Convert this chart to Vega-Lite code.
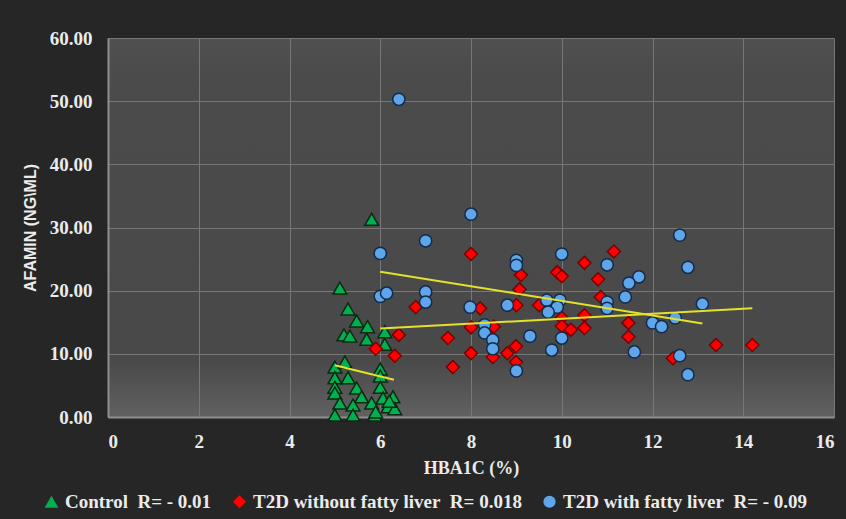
{
  "$schema": "https://vega.github.io/schema/vega-lite/v6.json",
  "autosize": {"type": "none"},
  "width": 726,
  "height": 379,
  "padding": {"left": 108, "top": 38, "right": 12, "bottom": 102},
  "background": "#262626",
  "config": {
    "view": {
      "stroke": null,
      "fill": {
        "gradient": "linear", "x1": 0, "y1": 0, "x2": 0, "y2": 1,
        "stops": [
          {"offset": 0, "color": "#505050"},
          {"offset": 0.1, "color": "#4b4b4b"},
          {"offset": 0.85, "color": "#494949"},
          {"offset": 1, "color": "#616161"}
        ]
      }
    },
    "axis": {
      "labelFont": "Liberation Serif",
      "labelFontWeight": "bold",
      "labelColor": "#ebebeb",
      "labelFontSize": 19,
      "titleColor": "#ebebeb",
      "gridColor": "#777777",
      "gridWidth": 1,
      "domainColor": "#8f8f8f",
      "domainWidth": 2,
      "ticks": false
    },
    "legend": {
      "labelFont": "Liberation Serif",
      "labelFontWeight": "bold",
      "labelFontSize": 19,
      "labelColor": "#ebebeb"
    }
  },
  "datasets": {
    "pts": [
      {"x": 5.11, "y": 20.4, "g": "Control\u00a0\u00a0R=\u00a0-\u00a00.01"},
      {"x": 5.29, "y": 17.1, "g": "Control\u00a0\u00a0R=\u00a0-\u00a00.01"},
      {"x": 5.48, "y": 15.2, "g": "Control\u00a0\u00a0R=\u00a0-\u00a00.01"},
      {"x": 5.72, "y": 14.3, "g": "Control\u00a0\u00a0R=\u00a0-\u00a00.01"},
      {"x": 5.2, "y": 13.0, "g": "Control\u00a0\u00a0R=\u00a0-\u00a00.01"},
      {"x": 5.33, "y": 12.8, "g": "Control\u00a0\u00a0R=\u00a0-\u00a00.01"},
      {"x": 5.7, "y": 12.3, "g": "Control\u00a0\u00a0R=\u00a0-\u00a00.01"},
      {"x": 6.1, "y": 13.5, "g": "Control\u00a0\u00a0R=\u00a0-\u00a00.01"},
      {"x": 6.1, "y": 11.5, "g": "Control\u00a0\u00a0R=\u00a0-\u00a00.01"},
      {"x": 5.81, "y": 31.3, "g": "Control\u00a0\u00a0R=\u00a0-\u00a00.01"},
      {"x": 5.0, "y": 7.9, "g": "Control\u00a0\u00a0R=\u00a0-\u00a00.01"},
      {"x": 5.22, "y": 8.7, "g": "Control\u00a0\u00a0R=\u00a0-\u00a00.01"},
      {"x": 6.0, "y": 7.6, "g": "Control\u00a0\u00a0R=\u00a0-\u00a00.01"},
      {"x": 5.0, "y": 6.2, "g": "Control\u00a0\u00a0R=\u00a0-\u00a00.01"},
      {"x": 5.29, "y": 6.2, "g": "Control\u00a0\u00a0R=\u00a0-\u00a00.01"},
      {"x": 6.0, "y": 6.5, "g": "Control\u00a0\u00a0R=\u00a0-\u00a00.01"},
      {"x": 5.0, "y": 4.7, "g": "Control\u00a0\u00a0R=\u00a0-\u00a00.01"},
      {"x": 5.48, "y": 4.6, "g": "Control\u00a0\u00a0R=\u00a0-\u00a00.01"},
      {"x": 5.0, "y": 3.8, "g": "Control\u00a0\u00a0R=\u00a0-\u00a00.01"},
      {"x": 5.59, "y": 3.2, "g": "Control\u00a0\u00a0R=\u00a0-\u00a00.01"},
      {"x": 6.0, "y": 4.7, "g": "Control\u00a0\u00a0R=\u00a0-\u00a00.01"},
      {"x": 6.28, "y": 3.2, "g": "Control\u00a0\u00a0R=\u00a0-\u00a00.01"},
      {"x": 5.11, "y": 2.2, "g": "Control\u00a0\u00a0R=\u00a0-\u00a00.01"},
      {"x": 5.4, "y": 1.9, "g": "Control\u00a0\u00a0R=\u00a0-\u00a00.01"},
      {"x": 5.81, "y": 2.2, "g": "Control\u00a0\u00a0R=\u00a0-\u00a00.01"},
      {"x": 6.06, "y": 3.0, "g": "Control\u00a0\u00a0R=\u00a0-\u00a00.01"},
      {"x": 6.17, "y": 1.6, "g": "Control\u00a0\u00a0R=\u00a0-\u00a00.01"},
      {"x": 5.0, "y": 0.3, "g": "Control\u00a0\u00a0R=\u00a0-\u00a00.01"},
      {"x": 5.4, "y": 0.3, "g": "Control\u00a0\u00a0R=\u00a0-\u00a00.01"},
      {"x": 5.88, "y": 0.3, "g": "Control\u00a0\u00a0R=\u00a0-\u00a00.01"},
      {"x": 6.32, "y": 1.3, "g": "Control\u00a0\u00a0R=\u00a0-\u00a00.01"},
      {"x": 6.2, "y": 2.5, "g": "Control\u00a0\u00a0R=\u00a0-\u00a00.01"},
      {"x": 5.9, "y": 0.8, "g": "Control\u00a0\u00a0R=\u00a0-\u00a00.01"},
      {"x": 6.78, "y": 17.4, "g": "T2D without fatty liver\u00a0\u00a0R=\u00a00.018"},
      {"x": 6.41, "y": 13.0, "g": "T2D without fatty liver\u00a0\u00a0R=\u00a00.018"},
      {"x": 5.9, "y": 10.8, "g": "T2D without fatty liver\u00a0\u00a0R=\u00a00.018"},
      {"x": 6.32, "y": 9.7, "g": "T2D without fatty liver\u00a0\u00a0R=\u00a00.018"},
      {"x": 7.49, "y": 12.5, "g": "T2D without fatty liver\u00a0\u00a0R=\u00a00.018"},
      {"x": 7.6, "y": 7.9, "g": "T2D without fatty liver\u00a0\u00a0R=\u00a00.018"},
      {"x": 8.0, "y": 25.8, "g": "T2D without fatty liver\u00a0\u00a0R=\u00a00.018"},
      {"x": 9.1, "y": 22.5, "g": "T2D without fatty liver\u00a0\u00a0R=\u00a00.018"},
      {"x": 9.9, "y": 22.9, "g": "T2D without fatty liver\u00a0\u00a0R=\u00a00.018"},
      {"x": 10.0, "y": 22.3, "g": "T2D without fatty liver\u00a0\u00a0R=\u00a00.018"},
      {"x": 10.5, "y": 24.4, "g": "T2D without fatty liver\u00a0\u00a0R=\u00a00.018"},
      {"x": 10.8, "y": 21.8, "g": "T2D without fatty liver\u00a0\u00a0R=\u00a00.018"},
      {"x": 11.15, "y": 26.2, "g": "T2D without fatty liver\u00a0\u00a0R=\u00a00.018"},
      {"x": 9.07, "y": 20.2, "g": "T2D without fatty liver\u00a0\u00a0R=\u00a00.018"},
      {"x": 8.2, "y": 17.2, "g": "T2D without fatty liver\u00a0\u00a0R=\u00a00.018"},
      {"x": 9.0, "y": 17.7, "g": "T2D without fatty liver\u00a0\u00a0R=\u00a00.018"},
      {"x": 9.5, "y": 17.7, "g": "T2D without fatty liver\u00a0\u00a0R=\u00a00.018"},
      {"x": 10.86, "y": 19.0, "g": "T2D without fatty liver\u00a0\u00a0R=\u00a00.018"},
      {"x": 8.0, "y": 14.2, "g": "T2D without fatty liver\u00a0\u00a0R=\u00a00.018"},
      {"x": 8.5, "y": 14.3, "g": "T2D without fatty liver\u00a0\u00a0R=\u00a00.018"},
      {"x": 8.0, "y": 10.1, "g": "T2D without fatty liver\u00a0\u00a0R=\u00a00.018"},
      {"x": 8.48, "y": 9.5, "g": "T2D without fatty liver\u00a0\u00a0R=\u00a00.018"},
      {"x": 8.8, "y": 10.1, "g": "T2D without fatty liver\u00a0\u00a0R=\u00a00.018"},
      {"x": 8.99, "y": 11.2, "g": "T2D without fatty liver\u00a0\u00a0R=\u00a00.018"},
      {"x": 8.99, "y": 8.7, "g": "T2D without fatty liver\u00a0\u00a0R=\u00a00.018"},
      {"x": 10.0, "y": 15.7, "g": "T2D without fatty liver\u00a0\u00a0R=\u00a00.018"},
      {"x": 10.0, "y": 14.4, "g": "T2D without fatty liver\u00a0\u00a0R=\u00a00.018"},
      {"x": 10.2, "y": 13.8, "g": "T2D without fatty liver\u00a0\u00a0R=\u00a00.018"},
      {"x": 10.5, "y": 16.1, "g": "T2D without fatty liver\u00a0\u00a0R=\u00a00.018"},
      {"x": 10.5, "y": 14.1, "g": "T2D without fatty liver\u00a0\u00a0R=\u00a00.018"},
      {"x": 11.47, "y": 14.9, "g": "T2D without fatty liver\u00a0\u00a0R=\u00a00.018"},
      {"x": 11.47, "y": 12.7, "g": "T2D without fatty liver\u00a0\u00a0R=\u00a00.018"},
      {"x": 13.4, "y": 11.4, "g": "T2D without fatty liver\u00a0\u00a0R=\u00a00.018"},
      {"x": 14.2, "y": 11.4, "g": "T2D without fatty liver\u00a0\u00a0R=\u00a00.018"},
      {"x": 12.45, "y": 9.3, "g": "T2D without fatty liver\u00a0\u00a0R=\u00a00.018"},
      {"x": 6.41, "y": 50.3, "g": "T2D with fatty liver\u00a0\u00a0R=\u00a0-\u00a00.09"},
      {"x": 8.0, "y": 32.1, "g": "T2D with fatty liver\u00a0\u00a0R=\u00a0-\u00a00.09"},
      {"x": 7.0, "y": 27.9, "g": "T2D with fatty liver\u00a0\u00a0R=\u00a0-\u00a00.09"},
      {"x": 6.0, "y": 25.9, "g": "T2D with fatty liver\u00a0\u00a0R=\u00a0-\u00a00.09"},
      {"x": 10.0, "y": 25.8, "g": "T2D with fatty liver\u00a0\u00a0R=\u00a0-\u00a00.09"},
      {"x": 9.0, "y": 24.8, "g": "T2D with fatty liver\u00a0\u00a0R=\u00a0-\u00a00.09"},
      {"x": 9.0, "y": 24.0, "g": "T2D with fatty liver\u00a0\u00a0R=\u00a0-\u00a00.09"},
      {"x": 12.6, "y": 28.8, "g": "T2D with fatty liver\u00a0\u00a0R=\u00a0-\u00a00.09"},
      {"x": 6.0, "y": 19.1, "g": "T2D with fatty liver\u00a0\u00a0R=\u00a0-\u00a00.09"},
      {"x": 6.14, "y": 19.6, "g": "T2D with fatty liver\u00a0\u00a0R=\u00a0-\u00a00.09"},
      {"x": 7.0, "y": 19.8, "g": "T2D with fatty liver\u00a0\u00a0R=\u00a0-\u00a00.09"},
      {"x": 7.0, "y": 18.2, "g": "T2D with fatty liver\u00a0\u00a0R=\u00a0-\u00a00.09"},
      {"x": 7.98, "y": 17.4, "g": "T2D with fatty liver\u00a0\u00a0R=\u00a0-\u00a00.09"},
      {"x": 11.0, "y": 24.1, "g": "T2D with fatty liver\u00a0\u00a0R=\u00a0-\u00a00.09"},
      {"x": 8.8, "y": 17.7, "g": "T2D with fatty liver\u00a0\u00a0R=\u00a0-\u00a00.09"},
      {"x": 9.67, "y": 18.5, "g": "T2D with fatty liver\u00a0\u00a0R=\u00a0-\u00a00.09"},
      {"x": 9.96, "y": 18.5, "g": "T2D with fatty liver\u00a0\u00a0R=\u00a0-\u00a00.09"},
      {"x": 9.9, "y": 17.4, "g": "T2D with fatty liver\u00a0\u00a0R=\u00a0-\u00a00.09"},
      {"x": 9.7, "y": 16.6, "g": "T2D with fatty liver\u00a0\u00a0R=\u00a0-\u00a00.09"},
      {"x": 11.0, "y": 18.2, "g": "T2D with fatty liver\u00a0\u00a0R=\u00a0-\u00a00.09"},
      {"x": 11.0, "y": 17.2, "g": "T2D with fatty liver\u00a0\u00a0R=\u00a0-\u00a00.09"},
      {"x": 8.3, "y": 14.6, "g": "T2D with fatty liver\u00a0\u00a0R=\u00a0-\u00a00.09"},
      {"x": 8.3, "y": 13.3, "g": "T2D with fatty liver\u00a0\u00a0R=\u00a0-\u00a00.09"},
      {"x": 8.48, "y": 12.2, "g": "T2D with fatty liver\u00a0\u00a0R=\u00a0-\u00a00.09"},
      {"x": 8.48, "y": 10.8, "g": "T2D with fatty liver\u00a0\u00a0R=\u00a0-\u00a00.09"},
      {"x": 9.3, "y": 12.8, "g": "T2D with fatty liver\u00a0\u00a0R=\u00a0-\u00a00.09"},
      {"x": 10.0, "y": 12.5, "g": "T2D with fatty liver\u00a0\u00a0R=\u00a0-\u00a00.09"},
      {"x": 9.78, "y": 10.6, "g": "T2D with fatty liver\u00a0\u00a0R=\u00a0-\u00a00.09"},
      {"x": 9.0, "y": 7.3, "g": "T2D with fatty liver\u00a0\u00a0R=\u00a0-\u00a00.09"},
      {"x": 12.78, "y": 23.7, "g": "T2D with fatty liver\u00a0\u00a0R=\u00a0-\u00a00.09"},
      {"x": 11.7, "y": 22.2, "g": "T2D with fatty liver\u00a0\u00a0R=\u00a0-\u00a00.09"},
      {"x": 11.48, "y": 21.2, "g": "T2D with fatty liver\u00a0\u00a0R=\u00a0-\u00a00.09"},
      {"x": 11.4, "y": 19.0, "g": "T2D with fatty liver\u00a0\u00a0R=\u00a0-\u00a00.09"},
      {"x": 13.1, "y": 17.9, "g": "T2D with fatty liver\u00a0\u00a0R=\u00a0-\u00a00.09"},
      {"x": 12.0, "y": 14.9, "g": "T2D with fatty liver\u00a0\u00a0R=\u00a0-\u00a00.09"},
      {"x": 12.2, "y": 14.3, "g": "T2D with fatty liver\u00a0\u00a0R=\u00a0-\u00a00.09"},
      {"x": 12.5, "y": 15.7, "g": "T2D with fatty liver\u00a0\u00a0R=\u00a0-\u00a00.09"},
      {"x": 11.6, "y": 10.3, "g": "T2D with fatty liver\u00a0\u00a0R=\u00a0-\u00a00.09"},
      {"x": 12.6, "y": 9.7, "g": "T2D with fatty liver\u00a0\u00a0R=\u00a0-\u00a00.09"},
      {"x": 12.78, "y": 6.7, "g": "T2D with fatty liver\u00a0\u00a0R=\u00a0-\u00a00.09"}
    ],
    "trend": [
      {"x": 5.0, "y": 8.2, "g": "c"},
      {"x": 6.3, "y": 5.9, "g": "c"},
      {"x": 6.0, "y": 14.0, "g": "n"},
      {"x": 14.2, "y": 17.2, "g": "n"},
      {"x": 6.0, "y": 23.0, "g": "f"},
      {"x": 13.1, "y": 14.8, "g": "f"}
    ]
  },
  "layer": [
    {
      "data": {"name": "pts"},
      "mark": {"type": "point", "filled": true, "opacity": 1, "strokeWidth": 1.5},
      "encoding": {
        "x": {
          "field": "x", "type": "quantitative",
          "scale": {"domain": [0, 16], "nice": false},
          "axis": {
            "values": [0, 2, 4, 6, 8, 10, 12, 14, 16],
            "title": "HBA1C (%)",
            "titleFont": "Liberation Serif",
            "titleFontWeight": "bold",
            "titleFontSize": 18,
            "titlePadding": 8,
            "labelPadding": 15
          }
        },
        "y": {
          "field": "y", "type": "quantitative",
          "scale": {"domain": [0, 60], "nice": false},
          "axis": {
            "values": [0, 10, 20, 30, 40, 50, 60],
            "format": ".2f",
            "title": "AFAMIN (NG\\ML)",
            "titleFont": "Liberation Sans",
            "titleFontWeight": "bold",
            "titleFontSize": 16,
            "titlePadding": 11,
            "labelPadding": 16
          }
        },
        "color": {
          "field": "g", "type": "nominal",
          "scale": {
            "domain": ["Control\u00a0\u00a0R=\u00a0-\u00a00.01", "T2D without fatty liver\u00a0\u00a0R=\u00a00.018", "T2D with fatty liver\u00a0\u00a0R=\u00a0-\u00a00.09"],
            "range": ["#00b050", "#ff0000", "#5ea5ea"]
          },
          "legend": {
            "title": null,
            "orient": "none",
            "direction": "horizontal",
            "legendX": -66,
            "legendY": 454,
            "padding": 0,
            "labelFont": "Liberation Serif",
            "labelFontWeight": "bold",
            "labelFontSize": 19,
            "labelColor": "#ebebeb",
            "symbolSize": 30,
            "symbolStrokeWidth": 0,
            "columnPadding": 18,
            "labelOffset": 4,
            "labelLimit": 400
          }
        },
        "shape": {
          "field": "g", "type": "nominal",
          "scale": {
            "domain": ["Control\u00a0\u00a0R=\u00a0-\u00a00.01", "T2D without fatty liver\u00a0\u00a0R=\u00a00.018", "T2D with fatty liver\u00a0\u00a0R=\u00a0-\u00a00.09"],
            "range": ["triangle-up", "diamond", "circle"]
          },
          "legend": {
            "title": null,
            "orient": "none",
            "direction": "horizontal",
            "legendX": -66,
            "legendY": 454,
            "padding": 0,
            "labelFont": "Liberation Serif",
            "labelFontWeight": "bold",
            "labelFontSize": 19,
            "labelColor": "#ebebeb",
            "symbolSize": 30,
            "symbolStrokeWidth": 0,
            "columnPadding": 18,
            "labelOffset": 4,
            "labelLimit": 400
          }
        },
        "stroke": {
          "field": "g", "type": "nominal",
          "scale": {
            "domain": ["Control\u00a0\u00a0R=\u00a0-\u00a00.01", "T2D without fatty liver\u00a0\u00a0R=\u00a00.018", "T2D with fatty liver\u00a0\u00a0R=\u00a0-\u00a00.09"],
            "range": ["#0a2a10", "#7a0000", "#142a4a"]
          },
          "legend": null
        },
        "size": {
          "field": "g", "type": "nominal",
          "scale": {
            "domain": ["Control\u00a0\u00a0R=\u00a0-\u00a00.01", "T2D without fatty liver\u00a0\u00a0R=\u00a00.018", "T2D with fatty liver\u00a0\u00a0R=\u00a0-\u00a00.09"],
            "range": [190, 150, 150]
          },
          "legend": null
        }
      }
    },
    {
      "data": {"name": "trend"},
      "mark": {"type": "line", "color": "#e2e22a", "strokeWidth": 2},
      "encoding": {
        "x": {"field": "x", "type": "quantitative"},
        "y": {"field": "y", "type": "quantitative"},
        "detail": {"field": "g", "type": "nominal"}
      }
    }
  ]
}
